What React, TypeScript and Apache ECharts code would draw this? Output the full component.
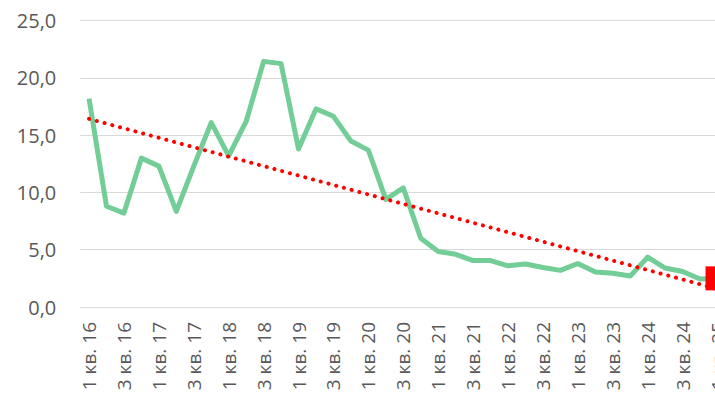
import React, { useEffect, useRef } from "react";
import * as echarts from "echarts";

const categories: string[] = [
  "1 кв. 16", "2 кв. 16", "3 кв. 16", "4 кв. 16",
  "1 кв. 17", "2 кв. 17", "3 кв. 17", "4 кв. 17",
  "1 кв. 18", "2 кв. 18", "3 кв. 18", "4 кв. 18",
  "1 кв. 19", "2 кв. 19", "3 кв. 19", "4 кв. 19",
  "1 кв. 20", "2 кв. 20", "3 кв. 20", "4 кв. 20",
  "1 кв. 21", "2 кв. 21", "3 кв. 21", "4 кв. 21",
  "1 кв. 22", "2 кв. 22", "3 кв. 22", "4 кв. 22",
  "1 кв. 23", "2 кв. 23", "3 кв. 23", "4 кв. 23",
  "1 кв. 24", "2 кв. 24", "3 кв. 24", "4 кв. 24",
  "1 кв. 25",
];

const values: number[] = [
  18.2, 8.8, 8.2, 13.0, 12.3, 8.35, 12.3, 16.1, 13.2, 16.2, 21.45, 21.25,
  13.8, 17.3, 16.65, 14.5, 13.7, 9.4, 10.4, 6.0, 4.85, 4.6, 4.05, 4.05,
  3.6, 3.75, 3.45, 3.2, 3.8, 3.05, 2.95, 2.7, 4.35, 3.4, 3.1, 2.45, 2.5,
];

// linear trend line end values (as drawn in the reference)
const trendStart = 16.43;
const trendEnd = 1.58;

const yMin = 0;
const yMax = 25;
const yStep = 5;

const FONT = "Open Sans";

export default function App() {
  const ref = useRef<HTMLDivElement>(null);
  useEffect(() => {
    if (!ref.current) return;
    const chart = echarts.init(ref.current, null, { renderer: "svg" });
    const last = categories.length - 1;
    chart.setOption({
      animation: false,
      backgroundColor: "#ffffff",
      grid: { left: 80.3, right: 0, top: 20.7, bottom: 94, containLabel: false },
      xAxis: {
        type: "category",
        data: categories,
        boundaryGap: true,
        axisLine: { show: false },
        axisTick: { show: false },
        splitLine: { show: false },
        axisLabel: {
          interval: 1,
          rotate: 90,
          margin: 15,
          color: "#595959",
          fontSize: 19,
          fontFamily: FONT,
        },
      },
      yAxis: {
        type: "value",
        min: yMin,
        max: yMax,
        interval: yStep,
        axisLine: { show: false },
        axisTick: { show: false },
        splitLine: { lineStyle: { color: "#d9d9d9", width: 1 } },
        axisLabel: {
          margin: 24,
          color: "#595959",
          fontSize: 20,
          fontFamily: FONT,
          formatter: (v: number) => v.toFixed(1).replace(".", ","),
        },
      },
      series: [
        {
          type: "line",
          data: values,
          showSymbol: false,
          symbol: "none",
          lineStyle: { color: "#72CE96", width: 5, join: "round" },
          z: 2,
        },
        {
          type: "line",
          data: [
            [categories[0], trendStart],
            [categories[last], trendEnd],
          ],
          showSymbol: false,
          symbol: "none",
          lineStyle: { color: "#ff0000", width: 4, type: [0.1, 7.9], cap: "round" },
          z: 3,
        },
        {
          type: "scatter",
          data: [[categories[last], values[last]]],
          symbol: "rect",
          symbolSize: 24,
          itemStyle: { color: "#ff0000", opacity: 1 },
          z: 4,
        },
      ],
    });
    return () => chart.dispose();
  }, []);
  return (
    <div
      style={{
        position: "absolute",
        left: 0,
        top: 0,
        width: 715,
        height: 401,
        overflow: "hidden",
        background: "#ffffff",
      }}
    >
      <div ref={ref} style={{ width: 727, height: 401 }} />
    </div>
  );
}
